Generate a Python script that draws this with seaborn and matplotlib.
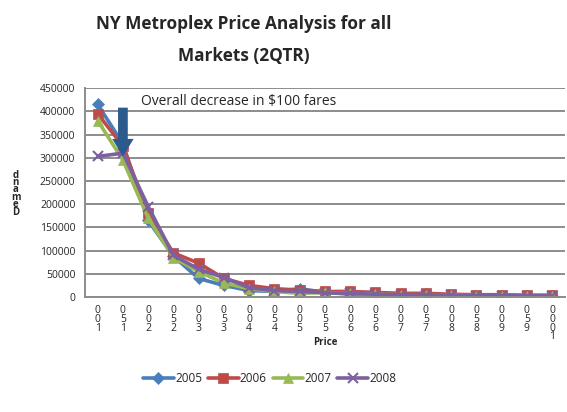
import pandas as pd
import numpy as np
import matplotlib.pyplot as plt
import seaborn as sns

prices = [100, 150, 200, 250, 300, 350, 400, 450, 500, 550,
          600, 650, 700, 750, 800, 850, 900, 950, 1000]
years = ['2005', '2006', '2007', '2008']
demand_2005 = [415000, 330000, 165000, 88000, 40000, 25000, 14000, 12000, 18000, 10000,
               6000, 4000, 3000, 6000, 3000, 2000, 2000, 2000, 3000]
demand_2006 = [395000, 325000, 180000, 95000, 73000, 40000, 25000, 18000, 15000, 12000,
               12000, 10000, 8000, 8000, 6000, 5000, 5000, 4000, 4000]
demand_2007 = [380000, 295000, 170000, 85000, 55000, 30000, 18000, 12000, 8000, 10000,
               8000, 6000, 5000, 5000, 4000, 3000, 3000, 3000, 3000]
demand_2008 = [303000, 310000, 195000, 90000, 60000, 42000, 20000, 14000, 12000, 9000,
               8000, 6000, 5000, 5000, 4000, 3000, 3000, 3000, 3000]

colors = ['#4A7EBB', '#BE4B48', '#98B954', '#7D60A0']
markers = ['D', 's', '^', 'x']

rows = []
for yr, vals in zip(years, [demand_2005, demand_2006, demand_2007, demand_2008]):
    for i, v in enumerate(vals):
        rows.append({'idx': i, 'Demand': v, 'Year': yr})
df = pd.DataFrame(rows)

sns.set_style('white')
plt.rcParams['font.family'] = ['Open Sans', 'DejaVu Sans']

fig = plt.figure(figsize=(5.67, 4.12), dpi=100)
ax = fig.add_axes([0.15, 0.279, 0.846, 0.507])

for yr, c, m in zip(years, colors, markers):
    sub = df[df['Year'] == yr]
    sns.lineplot(data=sub, x='idx', y='Demand', ax=ax, color=c, marker=m,
                 linewidth=2.6, markersize=6.5 if m != 'x' else 7.5,
                 markeredgecolor=c, markeredgewidth=1.5 if m == 'x' else 0.5,
                 label=yr)

ax.set_xlim(-0.5, len(prices) - 0.5)
ax.set_ylim(0, 450000)
ax.set_yticks(np.arange(0, 450001, 50000))
ax.set_yticklabels([str(v) for v in range(0, 450001, 50000)], fontsize=7.5)
ax.set_xticks(range(len(prices)))
ax.set_xticklabels(['\n'.join(reversed(str(p))) for p in prices], fontsize=7.5,
                   linespacing=0.7)
ax.tick_params(axis='x', length=0, pad=6)
ax.tick_params(axis='y', length=5, width=1.4, color='#8C8C8C', pad=2)
ax.grid(axis='y', color='#8C8C8C', linewidth=1.4)
ax.set_axisbelow(True)
for s in ['top', 'right']:
    ax.spines[s].set_visible(False)
ax.spines['left'].set_color('#8C8C8C')
ax.spines['left'].set_linewidth(1.4)
ax.spines['bottom'].set_color('#8C8C8C')
ax.spines['bottom'].set_linewidth(1.4)

ax.set_xlabel('Price', fontsize=7, fontweight='bold', labelpad=-4)
ax.set_ylabel('')
fig.text(0.028, 0.53, '\n'.join(reversed('Demand')), fontsize=7, fontweight='bold',
         ha='center', va='center', linespacing=0.55)

ax.annotate('', xy=(1, 297000), xytext=(1, 414000),
            arrowprops=dict(arrowstyle='simple,head_width=1.1,head_length=0.9,tail_width=0.5',
                            mutation_scale=14, color='#2C5A8C', lw=0))
ax.text(1.7, 422000, 'Overall decrease in $100 fares', fontsize=10, va='center', ha='left')

fig.text(0.43, 0.903, 'NY Metroplex Price Analysis for all\nMarkets (2QTR)', fontsize=12.4,
         fontweight='bold', ha='center', va='center', linespacing=2.0)

ax.legend(loc='center', bbox_to_anchor=(0.385, -0.39), ncol=4, frameon=False,
          fontsize=8.5, handlelength=2.6, columnspacing=0.5, handletextpad=0.1)

plt.savefig('out.png', dpi=100)
